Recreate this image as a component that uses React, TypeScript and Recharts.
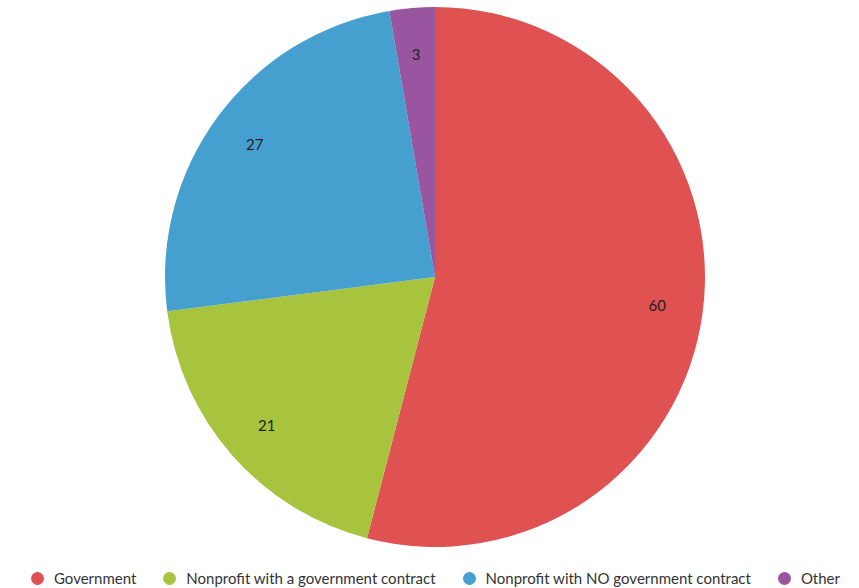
import { PieChart, Pie, Cell, Legend } from "recharts";

const categories = [
  "Government",
  "Nonprofit with a government contract",
  "Nonprofit with NO government contract",
  "Other",
];
const values = [60, 21, 27, 3];
const colors = ["#E05252", "#A8C43F", "#45A0CF", "#9A55A0"];

const data = categories.map((name, i) => ({ name, value: values[i] }));

const RADIAN = Math.PI / 180;

function renderLabel(props: any) {
  const { cx, cy, midAngle, outerRadius, value } = props;
  const r = outerRadius * 0.83;
  const x = cx + r * Math.cos(-midAngle * RADIAN);
  const y = cy + r * Math.sin(-midAngle * RADIAN);
  return (
    <text
      x={x}
      y={y}
      fill="#222"
      fontSize={15}
      textAnchor="middle"
      dominantBaseline="central"
    >
      {value}
    </text>
  );
}

function LegendContent() {
  return (
    <div style={{ display: "flex", justifyContent: "center", alignItems: "center", paddingLeft: 12 }}>
      {categories.map((c, i) => (
        <div key={c} style={{ display: "flex", alignItems: "center", marginRight: i < categories.length - 1 ? 27 : 0 }}>
          <span
            style={{
              display: "inline-block",
              width: 13,
              height: 13,
              borderRadius: "50%",
              background: colors[i],
              marginRight: 10,
            }}
          />
          <span style={{ color: "#333", fontSize: 15, lineHeight: "18px" }}>{c}</span>
        </div>
      ))}
    </div>
  );
}

export default function App() {
  return (
    <div style={{ position: "absolute", left: 0, top: 0, fontFamily: "Lato, sans-serif" }}>
      <PieChart width={859} height={588} margin={{ top: 0, right: 0, bottom: 0, left: 0 }}>
        <Pie
          data={data}
          dataKey="value"
          nameKey="name"
          cx={435}
          cy={277}
          outerRadius={270}
          startAngle={90}
          endAngle={-270}
          stroke="none"
          label={renderLabel}
          labelLine={false}
          isAnimationActive={false}
        >
          {data.map((d, i) => (
            <Cell key={d.name} fill={colors[i]} />
          ))}
        </Pie>
        <Legend
          content={<LegendContent />}
          verticalAlign="bottom"
          wrapperStyle={{ top: 569, bottom: "auto", left: 0, width: 859 }}
        />
      </PieChart>
    </div>
  );
}
